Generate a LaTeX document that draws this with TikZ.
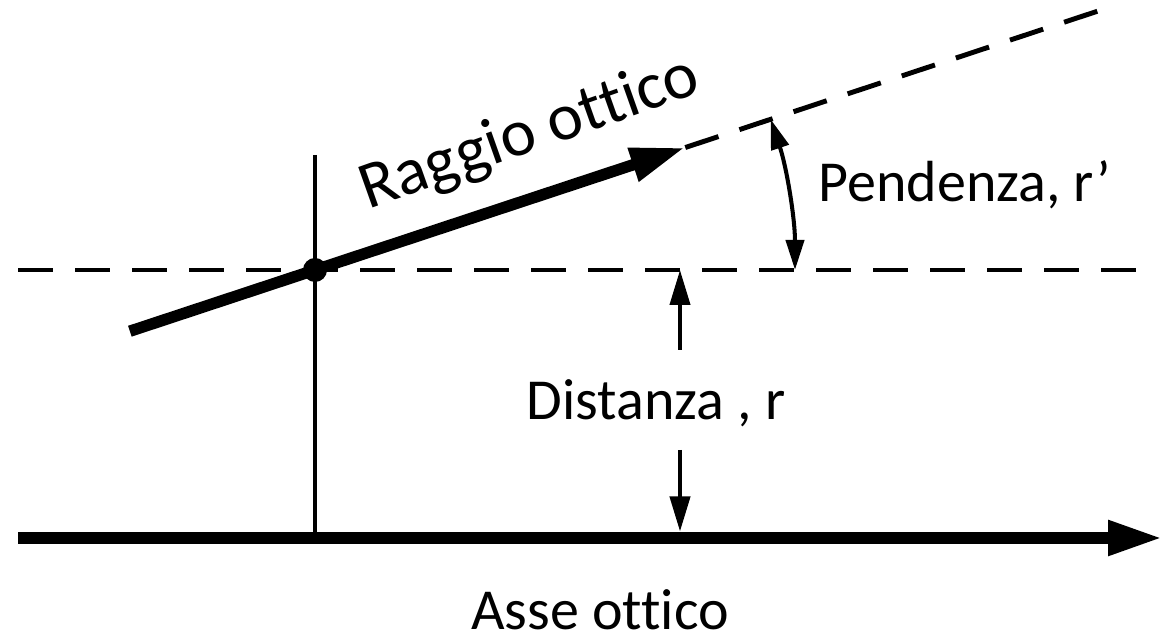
\documentclass[tikz,border=0pt]{standalone}
\usepackage{fontspec}
\setmainfont[Ligatures={NoCommon}]{Carlito}
\usetikzlibrary{arrows.meta}

\begin{document}
\begin{tikzpicture}[line cap=butt,font=\fontsize{33}{40}\selectfont,
  bigarrow/.style={line width=7pt,-{Triangle[length=11mm,width=6.5mm]}},
  dimarrow/.style={line width=2.3pt,-{Triangle[length=7mm,width=4mm]}},
  arcarrow/.style={line width=2.3pt,{Triangle[length=6mm,width=3.6mm]}-{Triangle[length=6mm,width=3.6mm]}},
  guide/.style={line width=2.8pt,dash pattern=on 0.7cm off 0.44cm}]
\useasboundingbox (0,0) rectangle (23.32,12.74);
% main points
\coordinate (O) at (6.30,7.34);
\coordinate (axL) at (0.36,1.98);
\coordinate (axR) at (23.26,1.98);
\coordinate (vT) at (6.30,9.64);
\coordinate (vB) at (6.30,1.98);
\coordinate (hL) at (0.36,7.34);
\coordinate (hR) at (23.0,7.34);
\path (O) ++(198.3:3.9) coordinate (rS);
\path (O) ++(18.3:7.8) coordinate (rT);
\path (O) ++(18.3:16.6) coordinate (rE);
\path (O) ++(18.3:9.6) coordinate (aT);
% dimension ends
\coordinate (d1) at (13.6,5.74);
\coordinate (d2) at (13.6,7.34);
\coordinate (d3) at (13.6,3.74);
\coordinate (d4) at (13.6,2.11);
% labels
\node[rotate=19.5,font=\fontsize{38}{46}\selectfont] (lray) at (10.6,10.05) {Raggio ottico};
\node (lslope) at (19.3,9.04) {Pendenza, r’};
\node (ldist) at (13.12,4.68) {Distanza , r};
\node[inner sep=1pt] (laxis) at (12.0,0.55) {Asse ottico};
% lines
\draw[guide] (hL) -- (hR);
\draw[guide] (rT) -- (rE);
\draw[line width=2.3pt] (vT) -- (vB);
\draw[bigarrow] (axL) -- (axR);
\draw[bigarrow,line width=6.5pt] (rS) -- (rT);
\fill (O) circle (0.24);
\draw[dimarrow] (d1) -- (d2);
\draw[dimarrow] (d3) -- (d4);
\draw[arcarrow] (aT) arc[start angle=18.3,end angle=0,radius=9.6];
\end{tikzpicture}
\end{document}
